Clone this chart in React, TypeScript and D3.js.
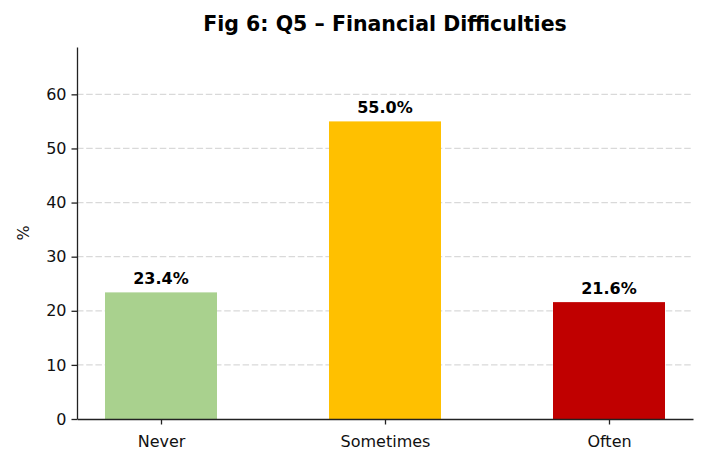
import { useEffect, useRef } from "react";
import * as d3 from "d3";

const categories = ["Never", "Sometimes", "Often"];
const values = [23.4, 55.0, 21.6];
const colors = ["#a9d18e", "#ffc000", "#c00000"];
const yTicks = [0, 10, 20, 30, 40, 50, 60];

const width = 707;
const height = 467;
const margin = { top: 47, right: 14, bottom: 48, left: 77 };
const font = "DejaVu Sans, sans-serif";

const App = () => {
  const svgRef = useRef<SVGSVGElement | null>(null);

  useEffect(() => {
    const svg = d3.select(svgRef.current);
    svg.selectAll("*").remove();

    const innerWidth = width - margin.left - margin.right;
    const innerHeight = height - margin.top - margin.bottom;

    // matplotlib-style categorical axis: bars of width 0.5, 5% margins
    const xScale = d3
      .scaleLinear()
      .domain([-0.375, categories.length - 1 + 0.375])
      .range([0, innerWidth]);
    const yScale = d3
      .scaleLinear()
      .domain([0, d3.max(values)! * 1.25])
      .range([innerHeight, 0]);

    const g = svg
      .append("g")
      .attr("transform", `translate(${margin.left},${margin.top})`);

    // grid
    g.append("g")
      .selectAll("line")
      .data(yTicks.slice(1))
      .enter()
      .append("line")
      .attr("x1", 0)
      .attr("x2", innerWidth)
      .attr("y1", (d) => yScale(d))
      .attr("y2", (d) => yScale(d))
      .attr("stroke", "#d9d9d9")
      .attr("stroke-width", 1.2)
      .attr("stroke-dasharray", "6.5,2.7");

    // bars
    const bw = xScale(0.5) - xScale(0);
    g.selectAll("rect.bar")
      .data(values)
      .enter()
      .append("rect")
      .attr("class", "bar")
      .attr("x", (_, i) => xScale(i) - bw / 2)
      .attr("y", (d) => yScale(d))
      .attr("width", bw)
      .attr("height", (d) => innerHeight - yScale(d))
      .attr("fill", (_, i) => colors[i]);

    // value labels
    g.selectAll("text.val")
      .data(values)
      .enter()
      .append("text")
      .attr("class", "val")
      .attr("x", (_, i) => xScale(i))
      .attr("y", (d) => yScale(d) - 8)
      .attr("text-anchor", "middle")
      .attr("font-family", font)
      .attr("font-size", 16)
      .attr("font-weight", "bold")
      .attr("fill", "#000")
      .text((d) => `${d.toFixed(1)}%`);

    // y axis
    const yAxis = g
      .append("g")
      .call(
        d3
          .axisLeft(yScale)
          .tickValues(yTicks)
          .tickSize(5.5)
          .tickPadding(5)
          .tickSizeOuter(0)
      );
    yAxis.select(".domain").attr("stroke", "#222").attr("stroke-width", 1.3);
    yAxis.selectAll(".tick line").attr("stroke", "#222").attr("stroke-width", 1.3);
    yAxis
      .selectAll(".tick text")
      .attr("font-family", font)
      .attr("font-size", 16)
      .attr("fill", "#111");

    // x axis
    const xAxis = g
      .append("g")
      .attr("transform", `translate(0,${innerHeight})`)
      .call(
        d3
          .axisBottom(xScale)
          .tickValues(categories.map((_, i) => i))
          .tickFormat((d) => categories[d as number])
          .tickSize(5.5)
          .tickPadding(11)
          .tickSizeOuter(0)
      );
    xAxis.select(".domain").attr("stroke", "#222").attr("stroke-width", 1.3);
    xAxis.selectAll(".tick line").attr("stroke", "#222").attr("stroke-width", 1.3);
    xAxis
      .selectAll(".tick text")
      .attr("font-family", font)
      .attr("font-size", 16)
      .attr("fill", "#111");

    // y label
    svg
      .append("text")
      .attr("transform", `translate(29,${margin.top + innerHeight / 2}) rotate(-90)`)
      .attr("text-anchor", "middle")
      .attr("font-family", font)
      .attr("font-size", 16)
      .attr("fill", "#111")
      .text("%");

    // title
    svg
      .append("text")
      .attr("x", margin.left + innerWidth / 2)
      .attr("y", 31)
      .attr("text-anchor", "middle")
      .attr("font-family", font)
      .attr("font-size", 20.5)
      .attr("font-weight", "bold")
      .attr("fill", "#000")
      .text("Fig 6: Q5 – Financial Difficulties");
  }, []);

  return (
    <svg
      ref={svgRef}
      width={width}
      height={height}
      style={{ position: "absolute", left: 0, top: 0, background: "#fff" }}
    ></svg>
  );
};

export default App;
